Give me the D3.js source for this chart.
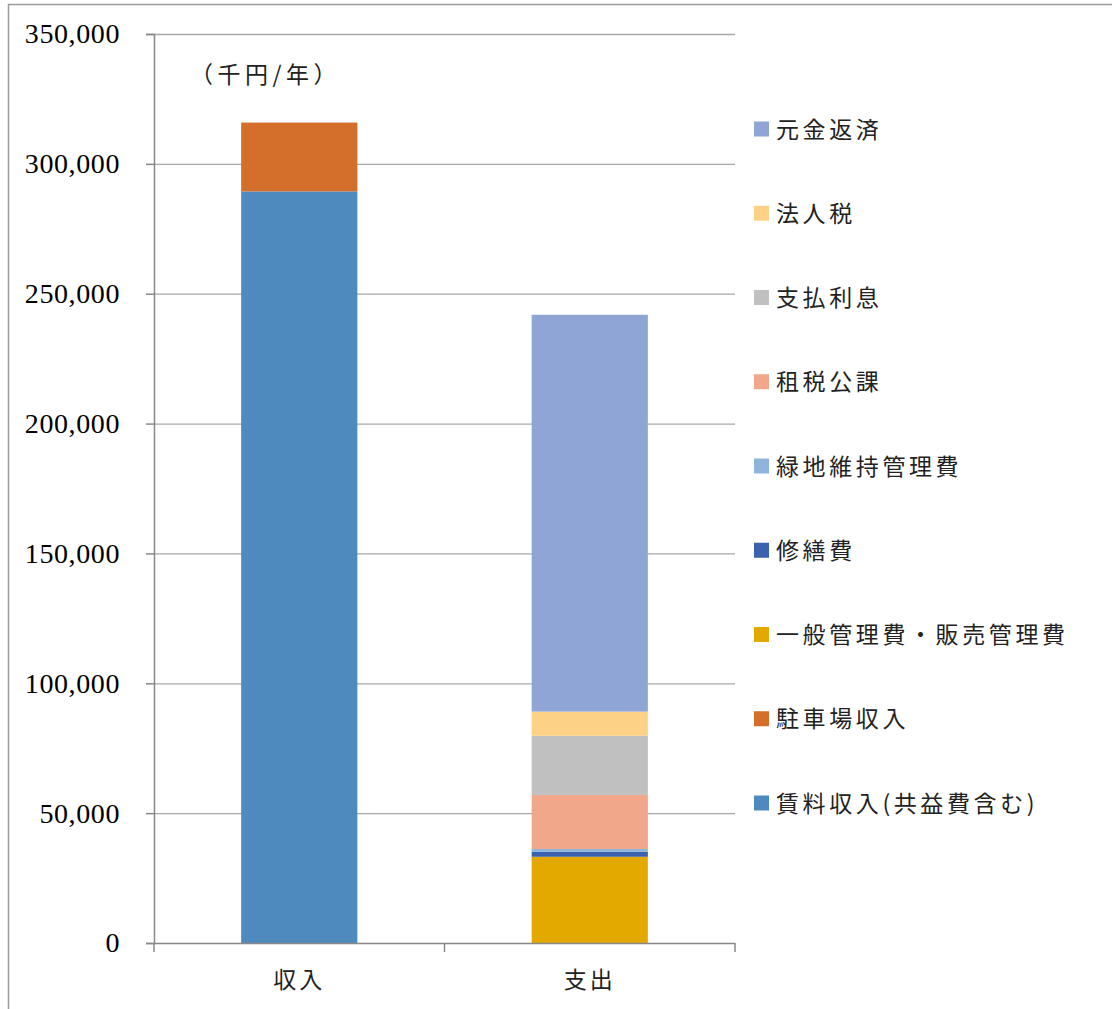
<!DOCTYPE html>
<html>
<head>
<meta charset="utf-8">
<script src="https://cdn.jsdelivr.net/npm/d3@7"></script>
<style>
  html, body { margin: 0; padding: 0; background: #fff; }
  svg { display: block; }
</style>
</head>
<body>
<svg id="chart" width="1112" height="1009"></svg>
<script>
// Annual income vs. expenditure (thousand yen / year)
const categories = ["収入", "支出"];
const seriesNames = [
  "賃料収入(共益費含む)",
  "駐車場収入",
  "一般管理費・販売管理費",
  "修繕費",
  "緑地維持管理費",
  "租税公課",
  "支払利息",
  "法人税",
  "元金返済"
];
const seriesColors = [
  "#4f8abe", "#d36f2a", "#e3a900", "#3a62ad", "#8fb5dc",
  "#f0a78a", "#c0c0c0", "#fdd286", "#8fa5d5"
];
// values per series, one entry per category (収入, 支出)
const incomeValues  = [289400, 26500, 0, 0, 0, 0, 0, 0, 0];
const expenseValues = [0, 0, 33200, 2000, 1000, 20800, 22800, 9300, 152800];
const yTicks = [0, 50000, 100000, 150000, 200000, 250000, 300000, 350000];
const unitLabel = "（千円/年）";

const rows = categories.map((c, ci) => {
  const row = { category: c };
  const vals = ci === 0 ? incomeValues : expenseValues;
  seriesNames.forEach((s, si) => { row[s] = vals[si]; });
  return row;
});

const svg = d3.select("#chart");
const jpFont = "'Noto Sans CJK JP', sans-serif";
const numFont = "'Liberation Serif', 'DejaVu Serif', serif";

// outer chart frame
svg.append("rect")
  .attr("x", 8.5).attr("y", 4.5)
  .attr("width", 1120).attr("height", 1020)
  .attr("fill", "none").attr("stroke", "#9a9a9a").attr("stroke-width", 1.5);

const plot = { left: 154, right: 735, top: 34, bottom: 943 };

const x = d3.scaleBand()
  .domain(categories)
  .range([plot.left, plot.right])
  .paddingInner(0.6)
  .paddingOuter(0.3);

const y = d3.scaleLinear()
  .domain([0, 350000])
  .range([plot.bottom, plot.top]);

// horizontal gridlines
svg.append("g")
  .selectAll("line")
  .data(yTicks.filter(t => t > 0))
  .join("line")
  .attr("x1", plot.left).attr("x2", plot.right)
  .attr("y1", d => y(d) + 0.5).attr("y2", d => y(d) + 0.5)
  .attr("stroke", "#a8a8a8").attr("stroke-width", 1.3);

// stacked bars
const stack = d3.stack().keys(seriesNames);
const layers = stack(rows);
svg.append("g")
  .selectAll("g")
  .data(layers)
  .join("g")
  .attr("fill", (d, i) => seriesColors[i])
  .selectAll("rect")
  .data(d => d.filter(p => p[1] - p[0] > 0))
  .join("rect")
  .attr("x", d => x(d.data.category))
  .attr("width", x.bandwidth())
  .attr("y", d => y(d[1]))
  .attr("height", d => y(d[0]) - y(d[1]));

// y axis
const yAxis = svg.append("g")
  .attr("transform", `translate(${plot.left},0)`)
  .call(d3.axisLeft(y).tickValues(yTicks).tickFormat(d3.format(",")).tickSize(8).tickPadding(26));
yAxis.select(".domain").attr("stroke", "#888").attr("stroke-width", 1.5);
yAxis.selectAll(".tick line").attr("stroke", "#888").attr("stroke-width", 1.5);
yAxis.selectAll(".tick text")
  .attr("fill", "#000")
  .style("font-family", numFont)
  .style("font-size", "28px")
  .style("letter-spacing", "0.6px");

// x axis with separator ticks between categories
const xAxisG = svg.append("g");
xAxisG.append("line")
  .attr("x1", plot.left).attr("x2", plot.right)
  .attr("y1", plot.bottom + 0.5).attr("y2", plot.bottom + 0.5)
  .attr("stroke", "#888").attr("stroke-width", 1.5);
const sepX = [plot.left, (plot.left + plot.right) / 2, plot.right];
xAxisG.selectAll("line.sep")
  .data(sepX)
  .join("line")
  .attr("class", "sep")
  .attr("x1", d => d).attr("x2", d => d)
  .attr("y1", plot.bottom).attr("y2", plot.bottom + 9)
  .attr("stroke", "#888").attr("stroke-width", 1.5);
xAxisG.selectAll("text")
  .data(categories)
  .join("text")
  .attr("x", d => x(d) + x.bandwidth() / 2)
  .attr("y", 988)
  .attr("text-anchor", "middle")
  .style("font-family", jpFont)
  .style("font-size", "23px")
  .style("letter-spacing", "3px")
  .attr("fill", "#222")
  .text(d => d);

// unit label
svg.append("text")
  .attr("x", 190).attr("y", 83)
  .style("font-family", jpFont)
  .style("font-size", "23px")
  .style("letter-spacing", "4.5px")
  .attr("fill", "#222")
  .text(unitLabel);

// legend (top of stack first)
const legendItems = seriesNames.map((s, i) => ({ name: s, color: seriesColors[i] })).reverse();
const legend = svg.append("g");
const lg = legend.selectAll("g")
  .data(legendItems)
  .join("g")
  .attr("transform", (d, i) => `translate(754, ${129 + i * 84.25})`);
lg.append("rect")
  .attr("x", 0).attr("y", -7.5)
  .attr("width", 15).attr("height", 15)
  .attr("fill", d => d.color);
lg.append("text")
  .attr("x", 22).attr("y", 8.5)
  .style("font-family", jpFont)
  .style("font-size", "23px")
  .style("letter-spacing", "3.6px")
  .attr("fill", "#222")
  .text(d => d.name);
</script>
</body>
</html>
